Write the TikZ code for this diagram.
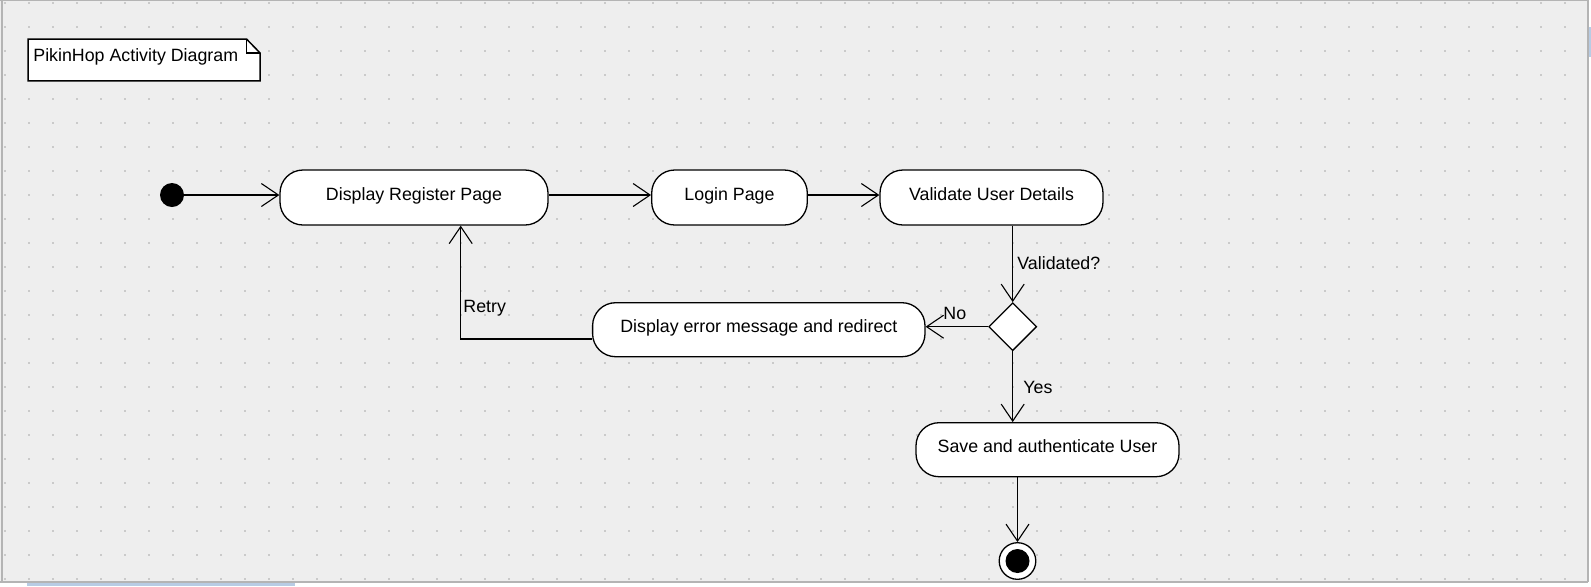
\documentclass[tikz,border=0pt]{standalone}
\usepackage{fontspec}
\setmainfont{Liberation Sans}
\usetikzlibrary{arrows.meta,shapes.geometric}
\definecolor{bg}{HTML}{EEEEEE}
\definecolor{dotc}{HTML}{CACACA}
\definecolor{chrome}{HTML}{B4B4B4}
\definecolor{tabc}{HTML}{B8CCE4}
\begin{document}
\begin{tikzpicture}[x=0.5pt,y=-0.5pt,
  font=\fontsize{8.9pt}{10pt}\selectfont,
  act/.style={draw=black, fill=white, line width=0.65pt, rounded corners=11.5pt,
    minimum height=27.5pt, inner sep=0pt, text height=6.5pt, text depth=3.6pt},
  arr/.style={line width=0.55pt, -{Straight Barb[length=8.5pt,width=11.5pt]}},
  lbl/.style={inner sep=0pt, anchor=west},
]
% background and grid
\fill[bg] (0,0) rectangle (1591,586);
\useasboundingbox (0,0) rectangle (1591,586);
\foreach \x in {5,29,...,1589}
  \foreach \y in {3,27,...,579}
    \fill[dotc] (\x-1,\y-1) rectangle (\x+1,\y+1);
% window chrome
\draw[chrome, line width=0.6pt] (0,0.6) -- (1591,0.6);
\draw[chrome, line width=0.6pt] (2,0) -- (2,582);
\fill[white] (1588,0) rectangle (1591,586);
\draw[chrome, line width=0.6pt] (1588,0) -- (1588,586);
\fill[tabc] (1589,27) rectangle (1591,57);
\fill[white] (0,582) rectangle (1591,586);
\draw[chrome, line width=0.6pt] (0,582) -- (1588,582);
\fill[tabc] (27,582.8) rectangle (295,586);

% note
\node[anchor=north west, minimum width=115.65pt, minimum height=20.5pt, inner sep=0pt] (note) at (28,39) {};
\draw[line width=0.75pt, fill=white]
  (note.north west) -- ([xshift=-6.8pt]note.north east) -- ([yshift=-7pt]note.north east)
  -- (note.south east) -- (note.south west) -- cycle;
\draw[line width=0.6pt] ([xshift=-6.8pt]note.north east) -- ([xshift=-6.8pt,yshift=-7pt]note.north east)
  -- ([yshift=-7pt]note.north east);
\node[lbl] (notetext) at (33,56.5) {PikinHop Activity Diagram};

% nodes
\node[circle, fill=black, minimum size=12pt, inner sep=0pt] (init) at (172,195) {};
\node[act, minimum width=134pt] (reg) at (414,197.5) {Display Register Page};
\node[act, minimum width=77.8pt] (login) at (729.5,197.5) {Login Page};
\node[act, minimum width=111.5pt] (val) at (991.5,197.5) {Validate User Details};
\node[diamond, aspect=1, draw=black, fill=white, line width=0.65pt, minimum width=24pt,
  minimum height=24pt, inner sep=0pt] (dec) at (1012.7,326.7) {};
\node[act, minimum width=166.2pt, minimum height=27pt] (err) at (758.8,329.7) {Display error message and redirect};
\node[act, minimum width=131.5pt, minimum height=27pt] (save) at (1047.5,449.7) {Save and authenticate User};
\node[circle, draw=black, fill=white, line width=0.65pt, minimum size=18.3pt, inner sep=0pt] (final) at (1017.5,561) {};
\fill[black] (final.center) circle[radius=6pt];
\coordinate (rx) at (460.7,225);

% connectors
\draw[arr] (init) -- (init -| reg.west);
\draw[arr] (reg.east |- init) -- (login.west |- init);
\draw[arr] (login.east |- init) -- (val.west |- init);
\draw[arr] (dec |- val.south) -- (dec.north);
\draw[arr] (dec.west) -- (err.east |- dec);
\draw[arr] (dec.south) -- (dec |- save.north);
\draw[arr] (final |- save.south) -- (final.north);
\draw[arr] ([yshift=-4.65pt]err.west) -| (rx |- reg.south);

% labels
\node[lbl] (lval) at (1017,263) {Validated?};
\node[lbl] (lno) at (943,313) {No};
\node[lbl] (lyes) at (1023,387) {Yes};
\node[lbl] (lretry) at (463,308.5) {Retry};
\end{tikzpicture}
\end{document}
